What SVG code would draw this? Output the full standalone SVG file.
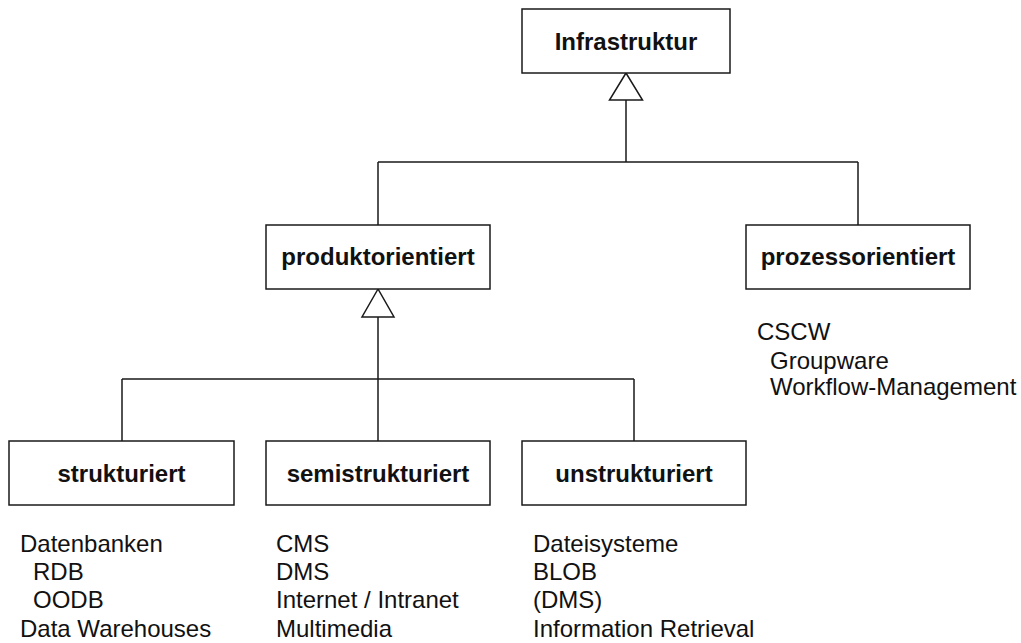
<svg xmlns="http://www.w3.org/2000/svg" width="1021" height="643" viewBox="0 0 1021 643">
<style>
.box{fill:#fff;stroke:#1a1a1a;stroke-width:1.5}
.lbl{font-family:"Liberation Sans",Arial,sans-serif;font-weight:bold;font-size:24px;fill:#111;text-anchor:middle}
.txt{font-family:"Liberation Sans",Arial,sans-serif;font-size:24px;fill:#111}
.ln{stroke:#1a1a1a;stroke-width:1.5;fill:none}
.tri{fill:#fff;stroke:#1a1a1a;stroke-width:1.5}
</style>
<rect width="1021" height="643" fill="#fff"/>
<g id="connectors">
<path class="ln" d="M626,100 V162 M378,162 H858 M378,162 V225 M858,162 V225"/>
<polygon class="tri" points="626,73 609.5,100 642.5,100"/>
<path class="ln" d="M378,317 V441 M122,379 H634 M122,379 V441 M634,379 V441"/>
<polygon class="tri" points="378,289 362,317 394,317"/>
</g>
<g id="infrastruktur">
<rect class="box" x="522" y="9" width="208" height="64"/>
<text class="lbl" x="626" y="49.5">Infrastruktur</text>
</g>
<g id="produktorientiert">
<rect class="box" x="266" y="225" width="224" height="64"/>
<text class="lbl" x="378" y="265">produktorientiert</text>
</g>
<g id="prozessorientiert">
<rect class="box" x="746" y="225" width="224" height="64"/>
<text class="lbl" x="858" y="265">prozessorientiert</text>
</g>
<g id="strukturiert">
<rect class="box" x="9" y="441" width="225" height="64"/>
<text class="lbl" x="121.5" y="481.5">strukturiert</text>
</g>
<g id="semistrukturiert">
<rect class="box" x="266" y="441" width="224" height="64"/>
<text class="lbl" x="378" y="481.5">semistrukturiert</text>
</g>
<g id="unstrukturiert">
<rect class="box" x="522" y="441" width="224" height="64"/>
<text class="lbl" x="634" y="481.5">unstrukturiert</text>
</g>
<g id="prozess-list">
<text class="txt" x="757" y="340">CSCW</text>
<text class="txt" x="770" y="369">Groupware</text>
<text class="txt" x="770" y="395">Workflow-Management</text>
</g>
<g id="strukturiert-list">
<text class="txt" x="20" y="552">Datenbanken</text>
<text class="txt" x="33" y="580">RDB</text>
<text class="txt" x="33" y="608">OODB</text>
<text class="txt" x="20" y="637">Data Warehouses</text>
</g>
<g id="semi-list">
<text class="txt" x="276" y="552">CMS</text>
<text class="txt" x="276" y="580">DMS</text>
<text class="txt" x="276" y="608">Internet / Intranet</text>
<text class="txt" x="276" y="637">Multimedia</text>
</g>
<g id="unstrukturiert-list">
<text class="txt" x="533" y="552">Dateisysteme</text>
<text class="txt" x="533" y="580">BLOB</text>
<text class="txt" x="533" y="608">(DMS)</text>
<text class="txt" x="533" y="637">Information Retrieval</text>
</g>
</svg>
